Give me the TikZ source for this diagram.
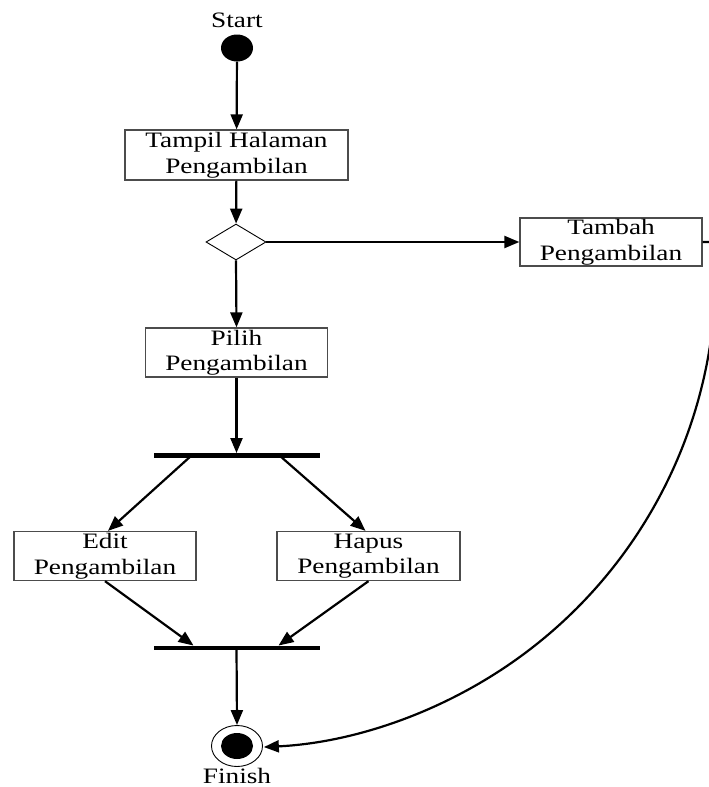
\documentclass[tikz,border=0pt]{standalone}
\usepackage{fontspec}
\setmainfont{Liberation Serif}[FakeStretch=1.24]
\usetikzlibrary{shapes.geometric,arrows.meta,calc}

\tikzset{
  actbox/.style={draw=black!70, line width=1.3pt, fill=white, align=center,
    inner sep=0pt, minimum width=182pt, minimum height=49pt,
    font=\fontsize{22}{25.5}\selectfont},
  flow/.style={line width=2.2pt, -{Triangle[length=15pt,width=12pt]}},
  syncbar/.style={fill=black, inner sep=0pt, minimum width=166pt, minimum height=4.5pt},
  lbl/.style={font=\fontsize{22}{25.5}\selectfont, inner sep=0pt}
}

\begin{document}
\begin{tikzpicture}[x=1pt,y=1pt]
  \useasboundingbox (0,0) rectangle (709,-787);

  % start and end points
  \node[lbl] (startlbl) at (237,-20) {Start};
  \node[ellipse, fill=black, inner sep=0pt, minimum width=32pt, minimum height=27pt] (start) at (237,-48) {};

  \node[ellipse, draw=black, line width=0.9pt, fill=white, inner sep=0pt,
        minimum width=51pt, minimum height=41pt] (finish) at (237,-746) {};
  \node[ellipse, fill=black, inner sep=0pt, minimum width=32pt, minimum height=26pt] (finishdot) at (237,-746) {};
  \node[lbl] (finishlbl) at (237,-776) {Finish};

  % activities
  \node[actbox, minimum width=223pt, minimum height=50pt] (tampil) at (236.5,-155) {Tampil Halaman\\Pengambilan};
  \node[draw=black, line width=0.9pt, fill=white, diamond, inner sep=0pt,
        minimum width=60pt, minimum height=36pt] (choice) at (236,-242) {};
  \node[actbox, minimum height=48pt] (tambah) at (611,-242) {Tambah\\Pengambilan};
  \node[actbox] (pilih) at (236.5,-352.5) {Pilih\\Pengambilan};
  \node[actbox] (edit) at (105,-556) {Edit\\Pengambilan};
  \node[actbox, minimum width=183pt] (hapus) at (368.5,-556) {Hapus\\Pengambilan};

  % fork and join bars
  \node[syncbar] (fork) at (236.5,-455.5) {};
  \node[syncbar] (join) at (236.5,-648) {};

  % connectors
  \draw[flow] (start) -- (tampil);
  \draw[flow] (tampil) -- (choice);
  \draw[flow] (choice.east) -- (tambah.west);
  \draw[flow] (choice.south) -- (pilih.north);
  \draw[flow] (pilih.south) -- (fork.north);
  \draw[flow] ($(fork.center)+(-45,0)$) -- ($(edit.north)+(3,0)$);
  \draw[flow] ($(fork.center)+(43,0)$) -- ($(hapus.north)+(-3,0)$);
  \draw[flow] (edit.south) -- ($(join.north)+(-43,0)$);
  \draw[flow] (hapus.south) -- ($(join.north)+(42,0)$);
  \draw[flow] (join.center) -- (finish.north);
  \draw[flow] (tambah.east) -- ++(12,0)
     arc[start angle=3.7, end angle=-87.2, radius=475];
\end{tikzpicture}
\end{document}
